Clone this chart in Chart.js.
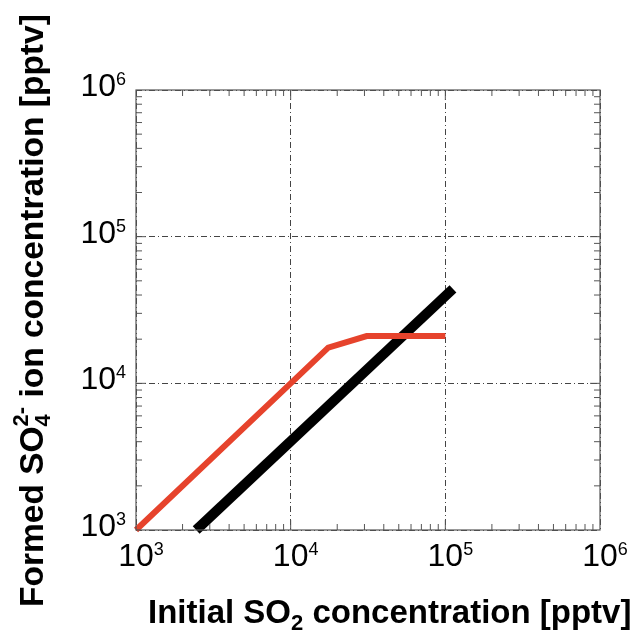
<!DOCTYPE html>
<html>
<head>
<meta charset="utf-8">
<script src="https://cdn.jsdelivr.net/npm/chart.js@4/dist/chart.umd.min.js"></script>
<style>
  html, body { margin: 0; padding: 0; background: #fff; }
  #wrap { width: 639px; height: 632px; }
</style>
</head>
<body>
<div id="wrap"><canvas id="so4Chart" width="639" height="632"></canvas></div>
<script>
// decade ticks shared by both axes
var decades = [1e3, 1e4, 1e5, 1e6];
var exponents = ['3', '4', '5', '6'];

// red curve: formed SO4 2- vs initial SO2
var redX = [1000, 10000, 17500, 31000, 100000];
var redY = [1000, 10000, 17500, 21000, 21000];

// black reference line
var blackX = [2450, 112000];
var blackY = [1000, 44000];

function toPoints(xs, ys) {
    return xs.map(function(x, i) { return {x: x, y: ys[i]}; });
}

var FONT = '"Liberation Sans", Arial, sans-serif';

var frame = {
    id: 'frame',
    afterDatasetsDraw: function(chart) {
        var ctx = chart.ctx, a = chart.chartArea;
        var xs = chart.scales.x, ys = chart.scales.y;
        ctx.save();
        ctx.strokeStyle = '#555';
        ctx.lineWidth = 1.2;
        ctx.strokeRect(a.left, a.top, a.right - a.left, a.bottom - a.top);
        // inside ticks, all four sides
        ctx.lineWidth = 1;
        for (var d = 0; d < 3; d++) {
            for (var m = 1; m <= 9; m++) {
                if (d === 0 && m === 1) continue;
                var v = decades[d] * m;
                var len = m === 1 ? 10 : 6;
                var px = xs.getPixelForValue(v);
                var py = ys.getPixelForValue(v);
                ctx.beginPath();
                ctx.moveTo(px, a.bottom); ctx.lineTo(px, a.bottom - len);
                ctx.moveTo(px, a.top); ctx.lineTo(px, a.top + len);
                ctx.moveTo(a.left, py); ctx.lineTo(a.left + len, py);
                ctx.moveTo(a.right, py); ctx.lineTo(a.right - len, py);
                ctx.stroke();
            }
        }
        ctx.restore();
    },
    afterDraw: function(chart) {
        var ctx = chart.ctx, a = chart.chartArea;
        var xs = chart.scales.x, ys = chart.scales.y;
        ctx.save();
        ctx.fillStyle = '#000';
        ctx.textBaseline = 'alphabetic';
        ctx.textAlign = 'left';
        // tick labels 10^n
        decades.forEach(function(v, i) {
            ctx.font = '32px ' + FONT;
            var w10 = ctx.measureText('10').width;
            ctx.font = '18px ' + FONT;
            var we = ctx.measureText(exponents[i]).width;
            // y axis
            var py = ys.getPixelForValue(v);
            var right = a.left - 10;
            ctx.font = '32px ' + FONT;
            ctx.fillText('10', right - we - w10, py + 6);
            ctx.font = '18px ' + FONT;
            ctx.fillText(exponents[i], right - we, py - 5);
            // x axis
            var px = xs.getPixelForValue(v);
            ctx.font = '32px ' + FONT;
            ctx.fillText('10', px - w10 / 2, a.bottom + 36);
            ctx.font = '18px ' + FONT;
            ctx.fillText(exponents[i], px + w10 / 2, a.bottom + 25);
        });

        // x title
        var parts = [
            ['Initial SO', 'bold 33px ', 0],
            ['2', 'bold 22px ', 7],
            [' concentration [pptv]', 'bold 33px ', 0]
        ];
        var x = 148, base = 623;
        parts.forEach(function(p) {
            ctx.font = p[1] + FONT;
            ctx.fillText(p[0], x, base + p[2]);
            x += ctx.measureText(p[0]).width;
        });

        // y title, rotated
        ctx.translate(43, 607);
        ctx.rotate(-Math.PI / 2);
        var t = 0;
        ctx.font = 'bold 33.5px ' + FONT;
        ctx.fillText('Formed SO', t, 0);
        t += ctx.measureText('Formed SO').width;
        ctx.font = 'bold 22px ' + FONT;
        ctx.fillText('4', t, 7);
        ctx.fillText('2-', t, -15);
        t += Math.max(ctx.measureText('4').width, ctx.measureText('2-').width);
        ctx.font = 'bold 33.5px ' + FONT;
        ctx.fillText(' ion concentration [pptv]', t, 0);
        ctx.restore();
    }
};

function decadeTicks(scale) {
    scale.ticks = decades.map(function(v) { return {value: v}; });
}

var ctx = document.getElementById('so4Chart').getContext('2d');
var so4Chart = new Chart(ctx, {
    type: 'scatter',
    data: {
        datasets: [{
            data: toPoints(redX, redY),
            showLine: true,
            borderColor: '#e6432c',
            borderWidth: 6,
            pointRadius: 0,
            clip: false
        }, {
            data: toPoints(blackX, blackY),
            showLine: true,
            borderColor: '#000',
            borderWidth: 10,
            borderCapStyle: 'butt',
            pointRadius: 0,
            clip: false
        }]
    },
    options: {
        responsive: false,
        animation: false,
        layout: { padding: { left: 136, right: 39, top: 90, bottom: 102 } },
        plugins: { legend: { display: false }, tooltip: { enabled: false } },
        scales: {
            x: {
                type: 'logarithmic',
                min: 1e3, max: 1e6,
                afterBuildTicks: decadeTicks,
                ticks: { display: false },
                border: { display: false, dash: [6, 3, 1, 3] },
                grid: { color: '#444', lineWidth: 1, drawTicks: false }
            },
            y: {
                type: 'logarithmic',
                min: 1e3, max: 1e6,
                afterBuildTicks: decadeTicks,
                ticks: { display: false },
                border: { display: false, dash: [6, 3, 1, 3] },
                grid: { color: '#444', lineWidth: 1, drawTicks: false }
            }
        }
    },
    plugins: [frame]
});
</script>
</body>
</html>
